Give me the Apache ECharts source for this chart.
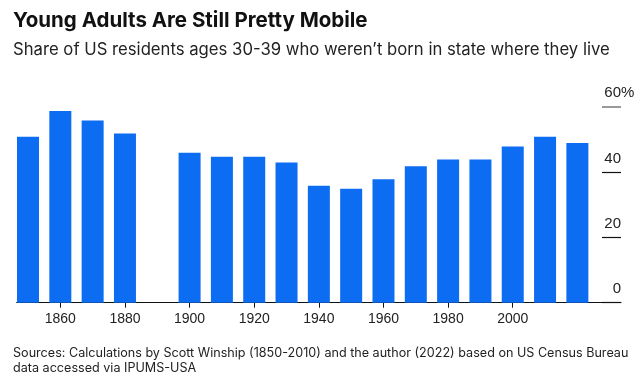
<!DOCTYPE html>
<html>
<head>
<meta charset="utf-8">
<script src="https://cdn.jsdelivr.net/npm/echarts@6/dist/echarts.min.js"></script>
<style>html,body{margin:0;padding:0;background:#fff}#c{width:643px;height:390px}</style>
</head>
<body>
<div id="c"></div>
<script>
var years = [1850, 1860, 1870, 1880, 1890, 1900, 1910, 1920, 1930, 1940, 1950, 1960, 1970, 1980, 1990, 2000, 2010, 2020];
var shares = [50.8, 58.7, 55.8, 51.8, null, 45.9, 44.7, 44.7, 42.9, 35.8, 34.9, 37.8, 41.8, 43.8, 43.8, 47.8, 50.8, 48.9];
var xTickLabels = [1860, 1880, 1900, 1920, 1940, 1960, 1980, 2000];
var yTicks = [0, 20, 40, 60];
var titleText = 'Young Adults Are Still Pretty Mobile';
var subtitleText = 'Share of US residents ages 30-39 who weren\u2019t born in state where they live';
var sourceText = 'Sources: Calculations by Scott Winship (1850-2010) and the author (2022) based on US Census Bureau\ndata accessed via IPUMS-USA';

var font = '"Liberation Sans", Arial, Helvetica, sans-serif';
var tfont = 'Inter, "Liberation Sans", Arial, sans-serif';
var chart = echarts.init(document.getElementById('c'), null, {renderer: 'canvas'});
var pts = years.map(function (y, i) { return [y, shares[i]]; });
chart.setOption({
  animation: false,
  backgroundColor: '#fff',
  textStyle: {fontFamily: font},
  title: [{
    text: titleText,
    left: 13, top: 10, padding: 0,
    textStyle: {fontFamily: tfont, fontSize: 20.5, fontWeight: 'bold', color: '#111'}
  }, {
    text: subtitleText,
    left: 13, top: 41, padding: 0,
    textStyle: {fontFamily: tfont, fontSize: 16.7, fontWeight: 'normal', color: '#222'}
  }, {
    text: sourceText,
    left: 13, top: 346, padding: 0,
    textStyle: {fontFamily: tfont, fontSize: 12.6, fontWeight: 'normal', color: '#222', lineHeight: 15}
  }],
  grid: {left: 16.7, right: 22, top: 106.7, bottom: 87.3, containLabel: false},
  xAxis: {
    type: 'value', min: 1846.5, max: 2033.5,
    axisLine: {show: true, lineStyle: {color: '#111', width: 1.2}},
    axisTick: {show: true, length: 5, customValues: xTickLabels, lineStyle: {color: '#111'}},
    axisLabel: {customValues: xTickLabels, fontSize: 14, color: '#222', margin: 9, fontFamily: font,
      formatter: function (v) { return String(v); }},
    splitLine: {show: false}
  },
  yAxis: [{
    type: 'value', position: 'right', min: 0, max: 60, interval: 20,
    axisLine: {show: false},
    axisTick: {show: true, inside: true, length: 19, customValues: [0, 20, 40], lineStyle: {color: '#111', width: 1.2}},
    axisLabel: {
      inside: true, margin: 0, align: 'right', verticalAlign: 'bottom', padding: [0, 0, 6, 0],
      fontSize: 15, color: '#222', fontFamily: font,
      customValues: yTicks,
      formatter: function (v) { return String(v); }
    },
    splitLine: {show: false}
  }, {
    type: 'value', position: 'right', min: 0, max: 60, interval: 20,
    axisLine: {show: false},
    axisTick: {show: true, inside: true, length: 19, customValues: [60], lineStyle: {color: '#777', width: 1.5}},
    axisLabel: {
      inside: false, margin: 0, align: 'left', verticalAlign: 'bottom', padding: [0, 0, 6, 0],
      fontSize: 15, color: '#222', fontFamily: font,
      customValues: [60],
      formatter: function () { return '%'; }
    },
    splitLine: {show: false}
  }],
  series: [{
    type: 'bar',
    data: pts,
    barWidth: 22,
    itemStyle: {color: '#0c6cf2'}
  }]
});
</script>
</body>
</html>
